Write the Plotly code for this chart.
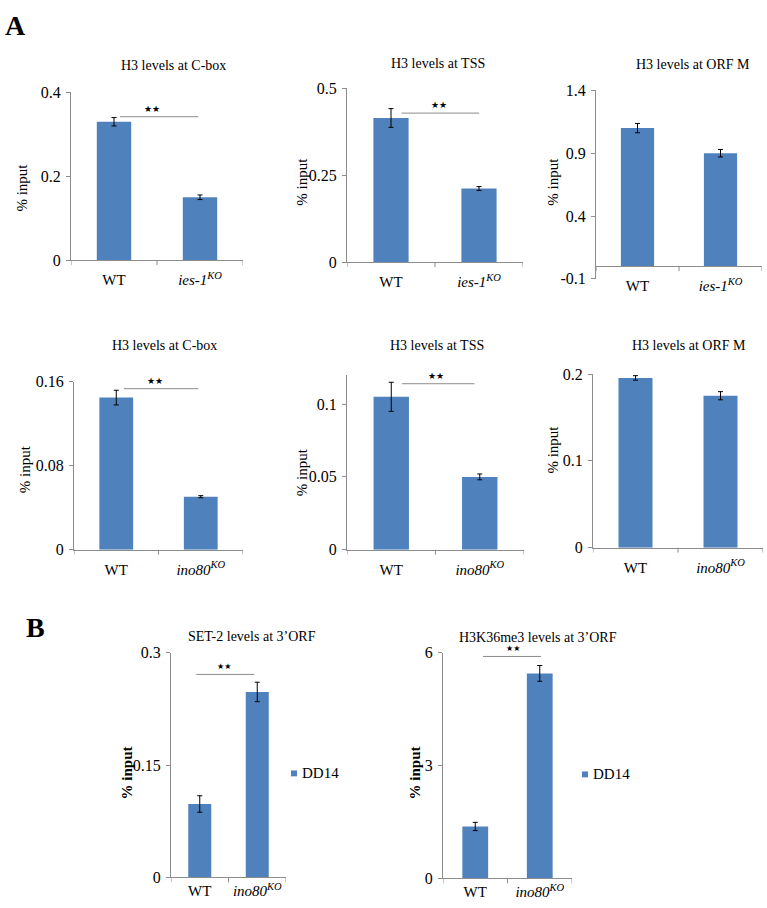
import plotly.graph_objects as go

W, H = 767, 908
SERIF = "Liberation Serif"
BAR = "#4F81BD"
AXC = "#8C8C8C"

# ---------------- data ----------------
cats_ies = ["WT", "<i>ies-1</i><sup><i>KO</i></sup>"]
cats_ino = ["WT", "<i>ino80</i><sup><i>KO</i></sup>"]

titles = ["H3 levels at C-box", "H3 levels at TSS", "H3 levels at ORF M",
          "H3 levels at C-box", "H3 levels at TSS", "H3 levels at ORF M",
          "SET-2 levels at 3\u2019ORF", "H3K36me3 levels at 3\u2019ORF"]

cbox_ies = [0.33, 0.15]
cbox_ies_err = [0.010, 0.0055]
tss_ies = [0.415, 0.212]
tss_ies_err = [0.027, 0.0056]
orfm_ies = [1.10, 0.90]
orfm_ies_err = [0.037, 0.030]

cbox_ino = [0.145, 0.0505]
cbox_ino_err = [0.007, 0.001]
tss_ino = [0.105, 0.050]
tss_ino_err = [0.010, 0.002]
orfm_ino = [0.1955, 0.175]
orfm_ino_err = [0.0026, 0.0047]

set2_ino = [0.098, 0.2476]
set2_ino_err = [0.011, 0.013]
k36_ino = [1.38, 5.45]
k36_ino_err = [0.11, 0.21]

yticks = [[0, 0.2, 0.4], [0, 0.25, 0.5], [-0.1, 0.4, 0.9, 1.4],
          [0, 0.08, 0.16], [0, 0.05, 0.1], [0, 0.1, 0.2],
          [0, 0.15, 0.3], [0, 3, 6]]
yticklabels = [["0", "0.2", "0.4"], ["0", "0.25", "0.5"], ["-0.1", "0.4", "0.9", "1.4"],
               ["0", "0.08", "0.16"], ["0", "0.05", "0.1"], ["0", "0.1", "0.2"],
               ["0", "0.15", "0.3"], ["0", "3", "6"]]
yranges = [[0, 0.4], [0, 0.5], [-0.1, 1.4], [0, 0.16], [0, 0.12], [0, 0.2], [0, 0.3], [0, 6]]

# significance bars: (x0, x1, y) in data units, None = no bar
sig = [(0.07, 0.98, 0.342), (0.12, 1.0, 0.429), None,
       (0.09, 0.97, 0.1535), (0.12, 0.94, 0.114), None,
       (-0.06, 0.95, 0.271), (0.12, 1.02, 5.9)]
sig_star_x = [0.44, 0.55, None, 0.46, 0.5, None, 0.43, 0.59]

legend_label = "DD14"

# ---------------- layout geometry (pixels) ----------------
panels = [
    dict(x=(71, 243), y=(86, 257), tx=(173, 59), yt=(22, 183)),
    dict(x=(347, 523), y=(82, 259), tx=(438, 57), yt=(302, 177)),
    dict(x=(596, 762), y=(84, 276), tx=(693, 58), yt=(553, 177)),
    dict(x=(74, 243), y=(381, 552), tx=(164, 344), yt=(25, 470)),
    dict(x=(347, 524), y=(374, 552), tx=(437, 344), yt=(302, 473)),
    dict(x=(593, 763), y=(373, 550), tx=(689, 344), yt=(553, 450)),
    dict(x=(171, 286), y=(657, 886), tx=(252, 640), yt=(127, 780)),
    dict(x=(443, 572), y=(657, 887), tx=(538, 642), yt=(415, 780)),
]

values = [cbox_ies, tss_ies, orfm_ies, cbox_ino, tss_ino, orfm_ino, set2_ino, k36_ino]
errors = [cbox_ies_err, tss_ies_err, orfm_ies_err, cbox_ino_err, tss_ino_err,
          orfm_ino_err, set2_ino_err, k36_ino_err]
cats = [cats_ies] * 3 + [cats_ino] * 5


def px_x(v):
    return v / W


def px_y(v):
    return 1 - v / H


fig = go.Figure()
layout = dict(width=W, height=H, margin=dict(l=0, r=0, t=0, b=0),
              paper_bgcolor="white", plot_bgcolor="white", showlegend=False,
              font=dict(family=SERIF, color="black"))
annotations = []
shapes = []

for i, p in enumerate(panels):
    n = i + 1
    xa = "xaxis" if n == 1 else f"xaxis{n}"
    ya = "yaxis" if n == 1 else f"yaxis{n}"
    xr = "x" if n == 1 else f"x{n}"
    yr = "y" if n == 1 else f"y{n}"
    ydom = [px_y(p["y"][1]), px_y(p["y"][0])]
    fig.add_trace(go.Bar(
        x=[0, 1], y=values[i], marker=dict(color=BAR, line=dict(width=0)),
        error_y=dict(type="data", array=errors[i], color="black", thickness=1, width=2.5),
        xaxis=xr, yaxis=yr, width=0.4))
    yr0, yr1 = yranges[i]
    small = i >= 6
    xaxis = dict(domain=[px_x(p["x"][0]), px_x(p["x"][1])], range=[-0.5, 1.5],
                 tickvals=[0, 1], ticktext=cats[i], showline=True, linecolor=AXC,
                 linewidth=1, ticks="", showgrid=False, zeroline=False,
                 tickfont=dict(family=SERIF, size=15, color="black"),
                 ticklabelstandoff=0 if small else 6, fixedrange=True)
    if yr0 < 0:
        pos = ydom[0] + (0 - yr0) / (yr1 - yr0) * (ydom[1] - ydom[0])
        xaxis.update(anchor="free", position=pos)
        ybase = pos
    else:
        xaxis.update(anchor=yr)
        ybase = ydom[0]
    layout[xa] = xaxis
    layout[ya] = dict(domain=ydom, range=[yr0, yr1], anchor=xr, tickvals=yticks[i],
                      ticktext=yticklabels[i], showline=True, linecolor=AXC, linewidth=1,
                      ticks="outside", ticklen=4, tickcolor=AXC, showgrid=False,
                      zeroline=False, tickfont=dict(family=SERIF, size=16, color="black"),
                      ticklabelstandoff=2, fixedrange=True)
    for bx in [-0.5, 0.5, 1.5]:
        shapes.append(dict(type="line", xref=xr, yref="paper", x0=bx, x1=bx,
                           y0=ybase, y1=ybase - 5 / H, line=dict(color=AXC, width=1)))
    annotations.append(dict(text=titles[i], xref="paper", yref="paper",
                            x=px_x(p["tx"][0]), y=px_y(p["tx"][1]), showarrow=False,
                            xanchor="center", yanchor="middle",
                            font=dict(family=SERIF, size=14, color="black")))
    ytw = "<b>% input</b>" if small else "% input"
    annotations.append(dict(text=ytw, xref="paper", yref="paper", textangle=-90,
                            x=px_x(p["yt"][0]), y=px_y(p["yt"][1]), showarrow=False,
                            xanchor="center", yanchor="middle",
                            font=dict(family=SERIF, size=15, color="black")))
    if sig[i] is not None:
        x0, x1, yv = sig[i]
        shapes.append(dict(type="line", xref=xr, yref=yr, x0=x0, x1=x1, y0=yv, y1=yv,
                           line=dict(color="#8C8C8C", width=1)))
        annotations.append(dict(text="\u2605\u2605", xref=xr, yref=yr, x=sig_star_x[i], y=yv,
                                yshift=1, showarrow=False, xanchor="center", yanchor="bottom",
                                font=dict(family="DejaVu Sans", size=8 if small else 9,
                                          color="black")))

for lx, ly in [(294, 780), (585, 781)]:
    shapes.append(dict(type="rect", xref="paper", yref="paper",
                       x0=px_x(lx - 3), x1=px_x(lx + 3), y0=px_y(ly + 3), y1=px_y(ly - 3),
                       fillcolor=BAR, line=dict(width=0)))
    annotations.append(dict(text=legend_label, xref="paper", yref="paper",
                            x=px_x(lx + 6), y=px_y(ly), showarrow=False,
                            xanchor="left", yanchor="middle",
                            font=dict(family=SERIF, size=15, color="black")))

annotations.append(dict(text="<b>A</b>", xref="paper", yref="paper", x=px_x(3), y=px_y(18),
                        showarrow=False, xanchor="left", yanchor="middle",
                        font=dict(family=SERIF, size=28, color="black")))
annotations.append(dict(text="<b>B</b>", xref="paper", yref="paper", x=px_x(24), y=px_y(631),
                        showarrow=False, xanchor="left", yanchor="middle",
                        font=dict(family=SERIF, size=28, color="black")))

layout["annotations"] = annotations
layout["shapes"] = shapes
fig.update_layout(**layout)
fig.write_html("out.html", config={"displayModeBar": False},
               post_script="document.body.style.margin='0';document.body.style.overflow='hidden';")
